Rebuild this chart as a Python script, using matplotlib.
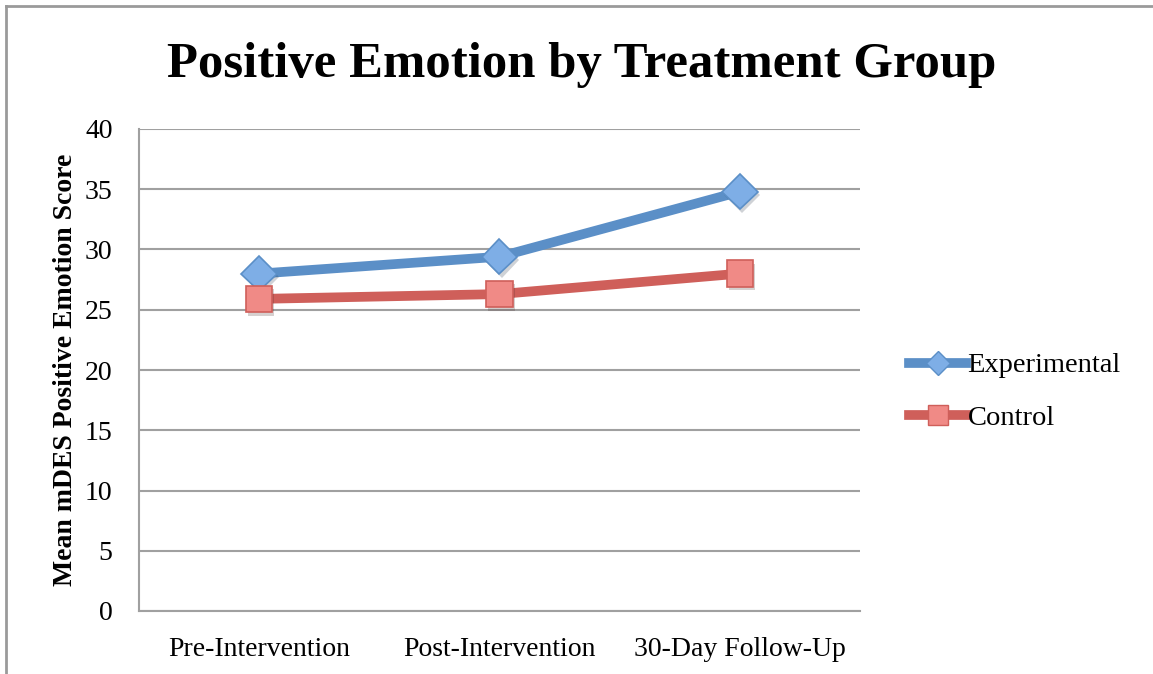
import matplotlib
matplotlib.use("Agg")
import matplotlib.pyplot as plt
import matplotlib.patheffects as pe
from matplotlib.lines import Line2D

# --- data ---
stages = ["Pre-Intervention", "Post-Intervention", "30-Day Follow-Up"]
experimental = [28.0, 29.4, 34.8]
control = [25.9, 26.3, 28.0]
y_ticks = [0, 5, 10, 15, 20, 25, 30, 35, 40]

BLUE = "#5b8fc7"
BLUE_FACE = "#7eaee6"
RED = "#cf5f5a"
RED_FACE = "#f08a86"
GRID = "#a0a0a0"
SERIF = ["Liberation Serif", "DejaVu Serif"]

plt.rcParams["font.family"] = SERIF

fig = plt.figure(figsize=(11.53, 6.74), dpi=100)
ax = fig.add_axes([139 / 1153, 1 - 611 / 674, 721 / 1153, 482 / 674])

x = list(range(len(stages)))
shadow = [pe.SimplePatchShadow(offset=(1.5, -2.5), alpha=0.22), pe.Normal()]

ax.plot(x, experimental, color=BLUE, linewidth=7, solid_capstyle="round",
        zorder=3)
ax.plot(x, experimental, linestyle="none", marker="D", markersize=18,
        markerfacecolor=BLUE_FACE, markeredgecolor=BLUE, markeredgewidth=1.2,
        path_effects=shadow, zorder=4)
ax.plot(x, control, color=RED, linewidth=7, solid_capstyle="round", zorder=3)
ax.plot(x, control, linestyle="none", marker="s", markersize=19,
        markerfacecolor=RED_FACE, markeredgecolor=RED, markeredgewidth=1.2,
        path_effects=shadow, zorder=4)

ax.set_xlim(-0.5, len(stages) - 0.5)
ax.set_ylim(0, 40)
ax.set_yticks(y_ticks)
ax.set_xticks(x)
ax.set_xticklabels(stages)
ax.tick_params(axis="both", length=0, labelsize=20)
ax.tick_params(axis="y", pad=19)
ax.tick_params(axis="x", pad=19)

ax.grid(axis="y", color=GRID, linewidth=1.5)
ax.set_axisbelow(True)
for side in ["top", "right"]:
    ax.spines[side].set_visible(False)
for side in ["left", "bottom"]:
    ax.spines[side].set_color(GRID)
    ax.spines[side].set_linewidth(1.5)

ax.set_ylabel("Mean mDES Positive Emotion Score", fontsize=20,
              fontweight="bold", labelpad=5)

fig.text(582 / 1153, 1 - 65 / 674, "Positive Emotion by Treatment Group",
         ha="center", va="center", fontsize=36.5, fontweight="bold")

# legend entries: line with marker in the middle
handles = [
    Line2D([0], [0], color=BLUE, linewidth=7, marker="D", markersize=12,
           markerfacecolor=BLUE_FACE, markeredgecolor=BLUE),
    Line2D([0], [0], color=RED, linewidth=7, marker="s", markersize=15,
           markerfacecolor=RED_FACE, markeredgecolor=RED),
]
fig.legend(handles, ["Experimental", "Control"], loc="center left",
           bbox_to_anchor=(895 / 1153, 1 - 392 / 674), frameon=False,
           fontsize=20.5, handlelength=2.0, handletextpad=0.05,
           labelspacing=0.95, borderpad=0)

# outer chart frame (left and top edges)
fig.add_artist(Line2D([6 / 1153, 6 / 1153], [0, 1 - 6 / 674],
                      transform=fig.transFigure, color="#9a9a9a", linewidth=2))
fig.add_artist(Line2D([6 / 1153, 1], [1 - 6 / 674, 1 - 6 / 674],
                      transform=fig.transFigure, color="#9a9a9a", linewidth=2))

fig.savefig("out.png", dpi=100)
